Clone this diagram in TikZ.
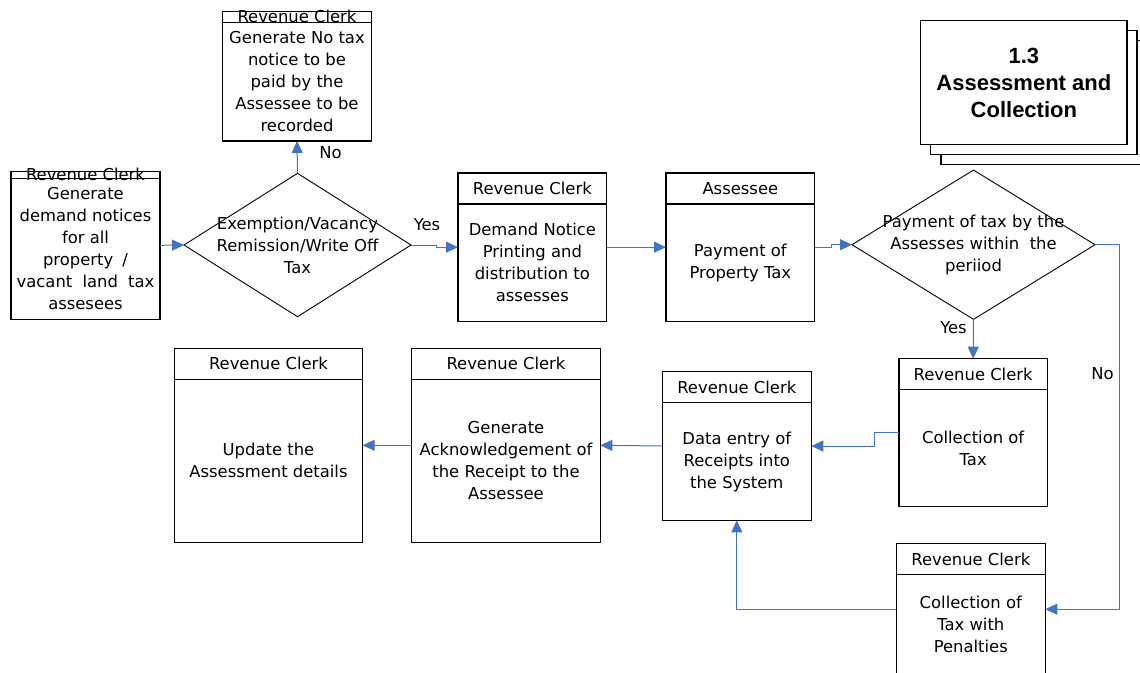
\documentclass[tikz,border=0pt]{standalone}
\usepackage{fontspec}
\setmainfont{DejaVu Sans}
\newfontfamily\titlefont{Liberation Sans}
\usetikzlibrary{arrows.meta,shapes.geometric}

\definecolor{flowblue}{RGB}{68,114,196}

% process box: name, x, y (top left), width, height, header height, header text, body text
\newcommand\procbox[8]{%
  \node[pbox, minimum width=#4, minimum height=#5] (#1) at (#2,#3) {};
  \draw[pline] ([yshift=-#6pt]#1.north west) -- ([yshift=-#6pt]#1.north east);
  \node[ptxt] (#1-head) at ([yshift={-#6pt/2}]#1.north) {#7};
  \node[ptxt] (#1-body) at ([yshift={-#6pt/2}]#1.center) {#8};
}

\begin{document}
\begin{tikzpicture}[x=1pt,y=-1pt,
  pbox/.style={draw=black, line width=1.1pt, fill=white, inner sep=0pt, outer sep=0pt, anchor=north west},
  pline/.style={draw=black, line width=1.1pt},
  ptxt/.style={inner sep=0pt, align=center, font=\fontsize{16.4}{22}\selectfont},
  decision/.style={diamond, draw=black, line width=0.9pt, inner sep=0pt, outer sep=0pt},
  flow/.style={draw=flowblue, line width=1pt, -{Triangle[length=12pt,width=11pt]}},
  stackbox/.style={draw=black, line width=1.4pt, fill=white, inner sep=0pt, outer sep=0pt, anchor=north west, minimum width=206.3, minimum height=123.6},
]
\useasboundingbox (0,0) rectangle (1140,672);

% process boxes
\procbox{notax}{222.7}{11.3}{148.6}{129.7}{11}{Revenue Clerk}{Generate No tax\\notice to be\\paid by the\\Assessee to be\\recorded}
\procbox{gen}{11}{171.3}{149}{148}{7}{Revenue Clerk}{Generate\\demand notices\\for all\\property\hspace{4pt} /\\vacant\hspace{5pt} land\hspace{5pt} tax\\assesees}
\procbox{demand}{458}{173}{148.7}{148.3}{31}{Revenue Clerk}{Demand Notice\\Printing and\\distribution to\\assesses}
\procbox{assessee}{666}{173}{148.7}{148.3}{31}{Assessee}{Payment of\\Property Tax}
\procbox{coll}{899}{358.7}{148.3}{147.6}{31}{Revenue Clerk}{Collection of\\Tax}
\procbox{pen}{896.3}{543.7}{149}{131}{31}{Revenue Clerk}{Collection of\\Tax with\\Penalties}
\procbox{data}{662.3}{371.7}{149}{148.6}{31}{Revenue Clerk}{Data entry of\\Receipts into\\the System}
\procbox{ack}{411.7}{348.3}{188.6}{194}{31}{Revenue Clerk}{Generate\\Acknowledgement of\\the Receipt to the\\Assessee}
\procbox{upd}{174.3}{348.3}{188.4}{194}{31}{Revenue Clerk}{Update the\\Assessment details}

% decisions
\node[decision, minimum width=227, minimum height=143.4] (d1) at (297.5,245) {};
\node[ptxt] (d1-text) at (d1.center) {Exemption/Vacancy\\Remission/Write Off\\Tax};
\node[decision, minimum width=243, minimum height=149.3] (d2) at (973.5,244.7) {};
\node[ptxt] (d2-text) at (d2.center) {Payment of tax by the\\Assesses within~ the\\periiod};

% process title, stacked
\node[stackbox] (stack3) at (941,40.7) {};
\node[stackbox] (stack2) at (930.7,30.7) {};
\node[stackbox] (title) at (920.7,20.7) {};
\node[align=center, inner sep=0pt, font=\titlefont\bfseries\fontsize{22}{27}\selectfont] (title-text) at (title.center) {1.3\\Assessment and\\Collection};

% connectors
\draw[flow] (gen.east) -- (d1.west);
\draw[flow] (d1.north) -- (notax.south);
\draw[flow] (d1.east) -- ++(25,0) |- (demand.west);
\draw[flow] (demand.east) -- (assessee.west);
\draw[flow] (assessee.east) -- ++(17,0) |- (d2.west);
\draw[flow] (d2.south) -- (coll.north);
\draw[flow] (d2.east) -- ++(24.3,0) |- (pen.east);
\draw[flow] (coll.west) -- ++(-24.7,0) |- (data.east);
\draw[flow] (pen.west) -| (data.south);
\draw[flow] (data.west) -- (ack.east);
\draw[flow] (ack.west) -- (upd.east);

% branch labels
\node[ptxt] (no1) at (330.5,153) {No};
\node[ptxt] (yes1) at (427,225) {Yes};
\node[ptxt] (yes2) at (953.5,328) {Yes};
\node[ptxt] (no2) at (1102.5,374) {No};
\end{tikzpicture}
\end{document}
